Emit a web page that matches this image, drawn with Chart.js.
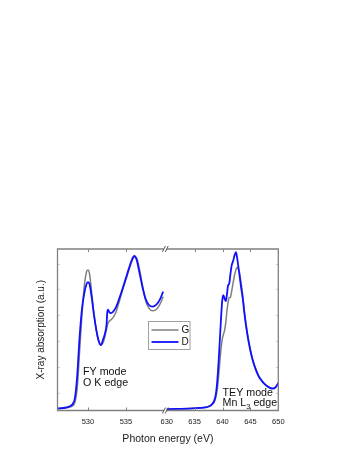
<!DOCTYPE html>
<html>
<head>
<meta charset="utf-8">
<script src="https://cdn.jsdelivr.net/npm/chart.js@4"></script>
<style>
  html, body { margin: 0; padding: 0; background: #fff; }
  #wrap { position: relative; width: 349px; height: 451px; }
</style>
</head>
<body>
<div id="wrap"><canvas id="xasChart" width="349" height="451"></canvas></div>
<script>
// O K edge (FY mode) - left part of the broken axis
const energyOK = [526.0, 526.5, 527.0, 527.5, 528.0, 528.3, 528.6, 528.9, 529.2, 529.5,
    529.8, 530.0, 530.2, 530.5, 530.8, 531.1, 531.4, 531.7, 532.0, 532.2,
    532.45, 532.55, 532.65, 532.8, 533.0, 533.3, 533.7, 534.1, 534.6, 535.0,
    535.4, 535.8, 536.1, 536.4, 536.8, 537.2, 537.6, 538.0, 538.5, 539.0,
    539.5, 539.9];
const gOK = [0.012, 0.013, 0.015, 0.02, 0.03, 0.05, 0.14, 0.36, 0.58, 0.76,
    0.855, 0.87, 0.85, 0.73, 0.6, 0.5, 0.43, 0.405, 0.42, 0.45,
    0.505, 0.525, 0.54, 0.553, 0.56, 0.575, 0.61, 0.67, 0.75, 0.81,
    0.87, 0.925, 0.95, 0.945, 0.87, 0.77, 0.68, 0.635, 0.617, 0.625,
    0.66, 0.705];
const dOK = [0.013, 0.014, 0.017, 0.024, 0.04, 0.08, 0.22, 0.45, 0.62, 0.72,
    0.78, 0.795, 0.785, 0.7, 0.59, 0.5, 0.435, 0.405, 0.44, 0.47,
    0.53, 0.61, 0.625, 0.61, 0.603, 0.61, 0.64, 0.69, 0.76, 0.82,
    0.88, 0.935, 0.958, 0.935, 0.85, 0.76, 0.69, 0.655, 0.643, 0.655,
    0.69, 0.736];

// Mn L3 edge (TEY mode) - right part
const energyMn = [630, 632, 634, 636, 637, 637.5, 638, 638.5, 638.8, 639.1,
    639.4, 639.7, 639.95, 640.15, 640.4, 640.6, 640.8, 641.0, 641.2, 641.4,
    641.65, 641.9, 642.2, 642.4, 642.6, 642.8, 643.0, 643.3, 643.6, 644.0,
    644.5, 645.0, 645.5, 646.0, 646.5, 647.0, 647.5, 648.0, 648.5, 649.0,
    649.5, 650.0];
const gMn = [0.008, 0.01, 0.012, 0.016, 0.02, 0.024, 0.032, 0.05, 0.08, 0.14,
    0.25, 0.37, 0.44, 0.47, 0.5, 0.55, 0.62, 0.67, 0.7, 0.7,
    0.74, 0.79, 0.845, 0.87, 0.885, 0.88, 0.86, 0.8, 0.72, 0.59,
    0.47, 0.375, 0.305, 0.255, 0.215, 0.188, 0.167, 0.152, 0.142, 0.137,
    0.145, 0.17];
const dMn = [0.008, 0.01, 0.012, 0.016, 0.02, 0.025, 0.035, 0.06, 0.1, 0.2,
    0.36, 0.55, 0.68, 0.715, 0.69, 0.677, 0.72, 0.775, 0.785, 0.84,
    0.9, 0.925, 0.965, 0.98, 0.95, 0.9, 0.85, 0.77, 0.7, 0.58,
    0.46, 0.37, 0.3, 0.25, 0.21, 0.185, 0.165, 0.15, 0.14, 0.135,
    0.143, 0.17];

const tickEnergies = [530, 535, 630, 635, 640, 645, 650];
const tickLabels = ['530', '535', '630', '635', '640', '645', '650'];
const yTickValues = [0.11, 0.27, 0.43, 0.59, 0.75, 0.91];
const seriesNames = ['G', 'D'];
const seriesColors = ['#7f7f7f', '#1010ff'];

const FONT = "'Liberation Sans', Arial, sans-serif";

// broken axis: left 526-540 eV, right 630-650 eV (compressed)
const LEFT_MIN = 526, LEFT_MAX = 540, RIGHT_MIN = 630, RIGHT_MAX = 650;
const GAP = 0.37, RIGHT_SCALE = 0.734;
function toAxis(e) {
    if (e < 600) return e - LEFT_MIN;
    return (LEFT_MAX - LEFT_MIN) + GAP + (e - RIGHT_MIN) * RIGHT_SCALE;
}
const X_MAX = toAxis(RIGHT_MAX);
const BREAK_X = (LEFT_MAX - LEFT_MIN) + GAP / 2;

function buildSeries(okVals, mnVals) {
    const pts = energyOK.map((e, i) => ({ x: toAxis(e), y: okVals[i] }));
    pts.push({ x: BREAK_X, y: null });
    energyMn.forEach((e, i) => pts.push({ x: toAxis(e), y: mnVals[i] }));
    return pts;
}

// frame, inner ticks, axis break, legend and labels
const decorPlugin = {
    id: 'decor',
    afterDraw(chart) {
        const { ctx, chartArea: a, scales: { x, y } } = chart;
        const bx = x.getPixelForValue(BREAK_X);
        ctx.save();

        // faint y ticks, left and right
        ctx.strokeStyle = '#d0d0d0';
        ctx.lineWidth = 1;
        ctx.beginPath();
        yTickValues.forEach(v => {
            const py = Math.round(y.getPixelForValue(v)) + 0.5;
            ctx.moveTo(a.left, py); ctx.lineTo(a.left + 2.5, py);
            ctx.moveTo(a.right, py); ctx.lineTo(a.right - 2.5, py);
        });
        ctx.stroke();

        ctx.strokeStyle = '#808080';
        ctx.lineWidth = 1.3;
        ctx.beginPath();
        ctx.moveTo(bx - 1.5, a.top); ctx.lineTo(a.left, a.top);
        ctx.lineTo(a.left, a.bottom); ctx.lineTo(bx - 1.5, a.bottom);
        ctx.moveTo(bx + 1.5, a.bottom); ctx.lineTo(a.right, a.bottom);
        ctx.lineTo(a.right, a.top); ctx.lineTo(bx + 1.5, a.top);
        ctx.stroke();

        // inner tick marks top and bottom
        ctx.lineWidth = 1;
        ctx.beginPath();
        tickEnergies.forEach(e => {
            if (e === RIGHT_MIN || e === RIGHT_MAX) return;
            const px = Math.round(x.getPixelForValue(toAxis(e))) + 0.5;
            ctx.moveTo(px, a.bottom); ctx.lineTo(px, a.bottom - 3);
            ctx.moveTo(px, a.top); ctx.lineTo(px, a.top + 3);
        });
        ctx.stroke();

        // break marks //
        ctx.strokeStyle = '#555';
        ctx.beginPath();
        [a.top, a.bottom].forEach(yy => {
            for (let k = -1; k <= 1; k += 2) {
                const cx = bx + k * 1.4;
                ctx.moveTo(cx - 1.5, yy + 3);
                ctx.lineTo(cx + 1.5, yy - 3);
            }
        });
        ctx.stroke();

        // legend box
        const lx = a.left + 91, ly = a.top + 72.5;
        ctx.strokeStyle = '#a0a0a0';
        ctx.strokeRect(lx, ly, 41.5, 28);
        ctx.font = '10px ' + FONT;
        ctx.textBaseline = 'middle';
        ctx.fillStyle = '#111';
        seriesNames.forEach((name, i) => {
            const yy = ly + 8.5 + i * 12;
            ctx.strokeStyle = seriesColors[i];
            ctx.lineWidth = i === 1 ? 1.8 : 1.5;
            ctx.beginPath();
            ctx.moveTo(lx + 3, yy); ctx.lineTo(lx + 30, yy);
            ctx.stroke();
            ctx.fillText(name, lx + 33, yy);
        });

        // edge annotations
        ctx.font = '10.7px ' + FONT;
        ctx.fillStyle = '#111';
        ctx.fillText('FY mode', 83, 371.7);
        ctx.fillText('O K edge', 83, 383.5);
        ctx.fillText('TEY mode', 222.5, 393.3);
        let tx = 222.5;
        ctx.fillText('Mn L', tx, 403);
        tx += ctx.measureText('Mn L').width;
        ctx.font = '7.5px ' + FONT;
        ctx.fillText('3', tx, 406.5);
        tx += ctx.measureText('3').width;
        ctx.font = '10.7px ' + FONT;
        ctx.fillText(' edge', tx, 403);

        ctx.restore();
    }
};

new Chart(document.getElementById('xasChart'), {
    type: 'line',
    data: {
        datasets: [
            {
                label: seriesNames[0],
                data: buildSeries(gOK, gMn),
                borderColor: seriesColors[0],
                borderWidth: 1.5,
                pointRadius: 0,
                cubicInterpolationMode: 'monotone',
                spanGaps: false,
                order: 1
            },
            {
                label: seriesNames[1],
                data: buildSeries(dOK, dMn),
                borderColor: seriesColors[1],
                borderWidth: 1.8,
                pointRadius: 0,
                cubicInterpolationMode: 'monotone',
                spanGaps: false,
                order: 0
            }
        ]
    },
    options: {
        responsive: false,
        animation: false,
        layout: { padding: { top: 249, right: 70.7, bottom: 0.5, left: 0 } },
        plugins: {
            legend: { display: false },
            tooltip: { enabled: false }
        },
        scales: {
            x: {
                type: 'linear',
                min: 0,
                max: X_MAX,
                afterFit: s => { s.height = 40; },
                afterBuildTicks: s => { s.ticks = tickEnergies.map(e => ({ value: toAxis(e) })); },
                grid: { display: false, drawTicks: false },
                border: { display: false },
                ticks: {
                    font: { family: FONT, size: 7.5 },
                    color: '#222',
                    padding: 7,
                    maxRotation: 0,
                    autoSkip: false,
                    callback: (v, i) => tickLabels[i]
                },
                title: {
                    display: true,
                    text: 'Photon energy (eV)',
                    font: { family: FONT, size: 10.5 },
                    color: '#222',
                    padding: { top: 0, bottom: 5 }
                }
            },
            y: {
                min: 0,
                max: 1,
                afterFit: s => { s.width = 57.5; },
                grid: { display: false, drawTicks: false },
                border: { display: false },
                ticks: { display: false },
                title: {
                    display: true,
                    text: 'X-ray absorption (a.u.)',
                    font: { family: FONT, size: 10 },
                    color: '#222',
                    padding: { top: 35.7, bottom: 0 }
                }
            }
        }
    },
    plugins: [decorPlugin]
});
</script>
</body>
</html>
